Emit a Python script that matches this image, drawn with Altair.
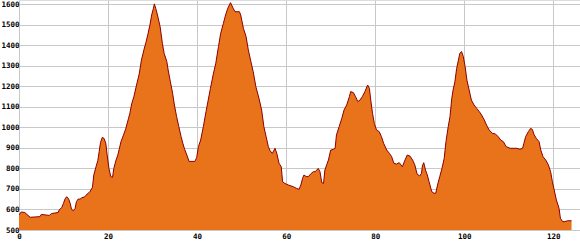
import altair as alt
import pandas as pd

km = [0, 0.5, 1.3, 2.5, 4.7, 5.0, 6.8, 7.3, 8.8, 9.0, 9.6, 10.0, 10.3, 10.7, 11.1, 11.5, 11.8,
      12.2, 12.6, 12.9, 13.3, 13.7, 14.1, 14.8, 15.3, 15.9, 16.5, 16.8, 17.3, 17.7, 18.0, 18.3,
      18.7, 19.1, 19.5, 19.8, 20.2, 20.6, 21.0, 21.3, 21.8, 22.2, 22.5, 22.9, 23.4, 24.0, 24.6,
      24.9, 25.3, 25.8, 26.4, 27.0, 27.5, 28.1, 28.5, 29.0, 29.4, 29.8, 30.2, 30.4, 30.7, 31.1,
      31.7, 32.2, 32.6, 33.2, 33.5, 34.0, 34.5, 34.9, 35.4, 35.9, 36.4, 36.8, 37.2, 37.7, 38.2,
      39.5, 39.9, 40.3, 40.8, 41.4, 42.0, 42.5, 43.0, 43.6, 44.2, 44.8, 45.3, 45.9, 46.4, 46.9,
      47.5, 48.1, 48.5, 49.5, 49.8, 50.4, 51.0, 51.5, 52.0, 52.6, 53.2, 53.9, 54.5, 55.0, 55.5,
      56.0, 56.4, 56.9, 57.5, 57.9, 58.4, 58.9, 59.2, 59.7, 60.5, 61.6, 62.3, 62.9, 63.3, 63.7,
      64.0, 64.5, 65.0, 65.5, 66.1, 66.5, 66.9, 67.2, 67.6, 68.0, 68.4, 68.7, 69.1, 69.5, 70.0,
      70.6, 71.0, 71.3, 71.9, 72.5, 73.0, 73.6, 74.2, 74.5, 75.1, 75.6, 76.1, 76.6, 77.1, 77.7,
      78.3, 78.7, 79.0, 79.4, 79.8, 80.3, 80.9, 81.4, 81.9, 82.6, 83.2, 83.7, 84.2, 84.8, 85.4,
      85.8, 86.1, 86.7, 87.2, 87.8, 88.4, 88.9, 89.4, 90.0, 90.4, 90.6, 90.9, 91.3, 91.7, 92.1,
      92.7, 93.2, 93.6, 94.0, 94.5, 95.0, 95.5, 95.9, 96.4, 96.8, 97.2, 97.5, 97.9, 98.3, 98.7,
      99.0, 99.4, 99.8, 100.2, 100.6, 101.1, 101.6, 102.2, 102.8, 103.4, 103.9, 104.5, 105.0,
      105.6, 106.3, 107.0, 107.6, 108.2, 108.8, 109.4, 110.3, 111.8, 112.5, 113.1, 113.4, 113.8,
      114.4, 114.9, 115.3, 115.7, 116.2, 116.8, 117.2, 117.7, 118.3, 118.9, 119.4, 119.8, 120.2,
      120.7, 121.3, 121.6, 122.1, 122.6, 123.2, 124.1]

elev = [573, 588, 585, 562, 565, 576, 571, 580, 585, 597, 610, 630, 650, 662, 654, 630, 600,
        594, 605, 638, 651, 650, 657, 662, 675, 685, 708, 768, 808, 838, 881, 925,
        951, 946, 922, 865, 800, 760, 756, 800, 841, 865, 893, 930, 958, 995, 1044,
        1068, 1114, 1149, 1206, 1260, 1328, 1381, 1412, 1458, 1498, 1547, 1580, 1601, 1580, 1547,
        1490, 1409, 1360, 1320, 1279, 1222, 1166, 1109, 1052, 1003, 955, 922, 893, 865, 834,
        834, 852, 906, 938, 1003, 1076, 1133, 1190, 1255, 1312, 1393, 1458, 1506, 1547, 1580,
        1607, 1580, 1563, 1563, 1547, 1482, 1442, 1377, 1328, 1271, 1198, 1141, 1084, 1003, 955,
        906, 886, 873, 898, 873, 825, 808, 735, 727, 719, 711, 703, 698, 719, 752,
        768, 760, 760, 773, 784, 784, 792, 800, 784, 731, 727, 792, 817, 841, 889,
        893, 898, 963, 1003, 1044, 1084, 1109, 1149, 1174, 1169, 1149, 1125, 1133, 1149, 1174,
        1206, 1190, 1133, 1068, 1019, 987, 979, 955, 922, 889, 873, 857, 825, 821, 828,
        817, 808, 841, 865, 860, 841, 817, 773, 763, 776, 812, 828, 792, 768, 735,
        687, 679, 679, 719, 760, 800, 849, 930, 1003, 1052, 1141, 1182, 1222, 1287, 1328,
        1360, 1369, 1344, 1295, 1230, 1182, 1133, 1109, 1092, 1076, 1060, 1036, 1011,
        987, 971, 968, 955, 938, 930, 906, 898, 898, 893, 898, 922, 955,
        979, 995, 990, 963, 946, 930, 889, 857, 841, 817, 784, 735, 695,
        646, 605, 557, 541, 541, 545, 545]

x_ticks = [0, 20, 40, 60, 80, 100, 120]
y_ticks = [500, 600, 700, 800, 900, 1000, 1100, 1200, 1300, 1400, 1500, 1600]

df = pd.DataFrame({"km": km, "elev": elev})

FONT = "DejaVu Sans Mono"

chart = alt.Chart(df).mark_area(
    color="#E8731A",
    fillOpacity=1,
    opacity=1,
    line={"color": "#8B0000", "strokeWidth": 1},
    interpolate="linear",
    clip=True,
).encode(
    x=alt.X("km:Q", scale=alt.Scale(domain=[0, 126], nice=False, zero=False),
            axis=alt.Axis(values=x_ticks, title=None, grid=True, gridColor="#c8c8c8",
                          gridOpacity=1, ticks=False, domain=False, labelFont=FONT,
                          labelFontSize=7.5, labelFontWeight="bold",
                          labelColor="#000000", labelPadding=2, labelFlush=False,
                          labelOverlap=False, format="d")),
    y=alt.Y("elev:Q", scale=alt.Scale(domain=[500, 1620], nice=False, zero=False),
            axis=alt.Axis(values=y_ticks, title=None, grid=True, gridColor="#c8c8c8",
                          gridOpacity=1, ticks=False, domain=False, labelFont=FONT,
                          labelFontSize=7.5, labelFontWeight="bold",
                          labelColor="#000000", labelPadding=0, labelFlush=False,
                          labelOverlap=False, format="d")),
).properties(
    width=561,
    height=230,
    autosize=alt.AutoSizeParams(type="none"),
    padding={"left": 19, "top": 0, "right": 0, "bottom": 20},
).configure_view(stroke=None).configure(background="#ffffff")

chart.save("out.html", embed_options={"renderer": "svg", "actions": False})
